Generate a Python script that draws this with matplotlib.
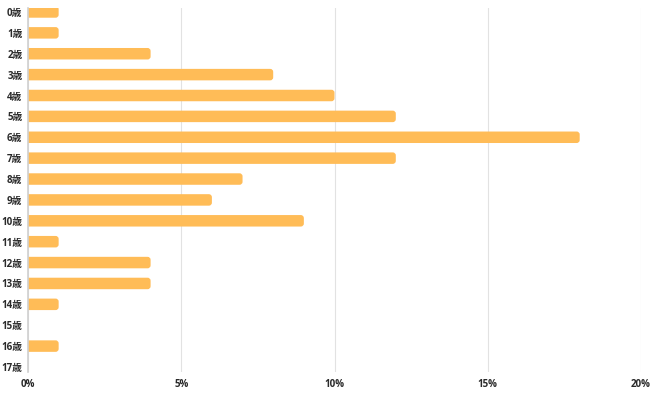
import matplotlib
matplotlib.use('Agg')
import matplotlib.pyplot as plt
from matplotlib.patches import FancyBboxPatch

plt.rcParams['font.family'] = ['Open Sans', 'Noto Sans CJK JP', 'DejaVu Sans']

# data
ages = [f'{i}歳' for i in range(18)]
shares = [1, 1, 4, 8, 10, 12, 18, 12, 7, 6, 9, 1, 4, 4, 1, 0, 1, 0]
x_ticks = [0, 5, 10, 15, 20]
x_tick_labels = ['0%', '5%', '10%', '15%', '20%']

BAR_COLOR = '#FFBC57'
TEXT_COLOR = '#2a2a2a'

fig = plt.figure(figsize=(6.6, 3.93), dpi=100)
ax = fig.add_axes([28 / 660, 1 - 372 / 393, (641 - 28) / 660, (372 - 8) / 393])

bars = ax.barh(range(len(ages)), shares, height=0.55, color=BAR_COLOR)

# swap plain bars for ones with rounded ends
for b in bars:
    x, y = b.get_x(), b.get_y()
    w, h = b.get_width(), b.get_height()
    b.remove()
    if w <= 0:
        continue
    p = FancyBboxPatch((x - 0.3, y), w + 0.3, h,
                       boxstyle='round,pad=0,rounding_size=0.1',
                       mutation_aspect=1.45,
                       facecolor=BAR_COLOR, edgecolor='none', zorder=3)
    ax.add_patch(p)

ax.set_xlim(0, 20)
ax.set_ylim(17.24, -0.19)

ax.set_yticks(range(len(ages)))
ax.set_yticklabels(ages)
ax.set_xticks(x_ticks)
ax.set_xticklabels(x_tick_labels)

ax.grid(axis='x', color='#e2e2e2', linewidth=0.8, zorder=0)
ax.set_axisbelow(True)

for s in ['top', 'right', 'bottom']:
    ax.spines[s].set_visible(False)
ax.spines['left'].set_color('#d0d0d0')
ax.spines['left'].set_linewidth(1.2)
ax.spines['left'].set_zorder(4)

ax.tick_params(axis='both', length=0, labelsize=7, labelcolor=TEXT_COLOR)
ax.tick_params(axis='y', pad=4)
ax.tick_params(axis='x', pad=5)
for lab in ax.get_xticklabels() + ax.get_yticklabels():
    lab.set_fontweight('bold')

fig.savefig('out.png', dpi=100)
